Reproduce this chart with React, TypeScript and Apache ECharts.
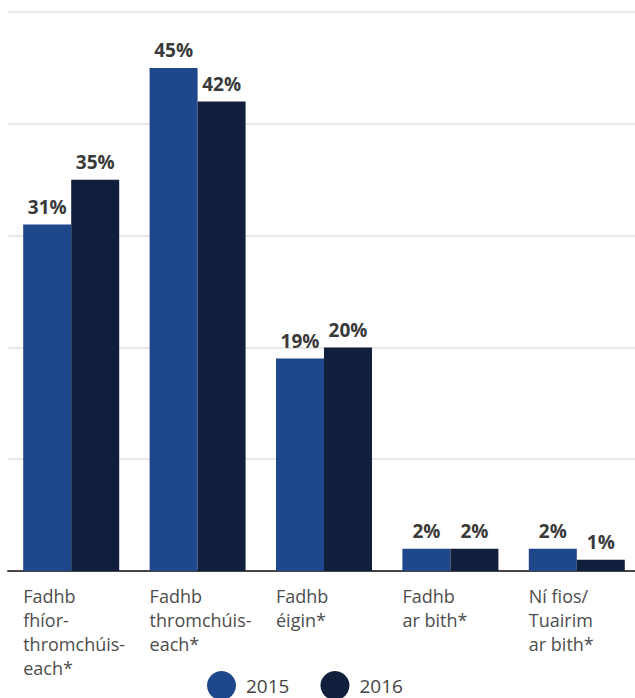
import React, { useEffect, useRef } from "react";
import * as echarts from "echarts";

const categories = [
  "Fadhb\nfhíor-\nthromchúis-\neach*",
  "Fadhb\nthromchúis-\neach*",
  "Fadhb\néigin*",
  "Fadhb\nar bith*",
  "Ní fios/\nTuairim\nar bith*",
];
const seriesNames = ["2015", "2016"];
const values2015 = [31, 45, 19, 2, 2];
const values2016 = [35, 42, 20, 2, 1];
const colors = ["#1f478b", "#111f3d"];
const FONT = "'Open Sans', sans-serif";

export default function App() {
  const ref = useRef<HTMLDivElement>(null);
  useEffect(() => {
    if (!ref.current) return;
    const chart = echarts.init(ref.current, null, { renderer: "svg" });
    const label = {
      show: true,
      position: "top",
      distance: 8,
      formatter: "{c}%",
      fontFamily: FONT,
      fontWeight: "bold",
      fontSize: 19,
      color: "#3a3a3a",
    };
    chart.setOption({
      animation: false,
      color: colors,
      legend: {
        data: seriesNames,
        top: 666,
        left: 202,
        icon: "circle",
        itemWidth: 29,
        itemHeight: 29,
        itemGap: 31,
        textStyle: { fontFamily: FONT, fontSize: 19, color: "#444444", padding: [0, 0, 0, 5] },
      },
      grid: {
        left: 8,
        width: 632,
        top: 12,
        bottom: 127,
        containLabel: false,
        outerBoundsMode: "none",
      },
      xAxis: {
        type: "category",
        data: categories,
        axisLine: { show: true, lineStyle: { color: "#444444", width: 2 } },
        axisTick: { show: false },
        axisLabel: {
          interval: 0,
          align: "left",
          verticalAlign: "top",
          padding: [0, 0, 0, -48],
          margin: 13,
          fontFamily: FONT,
          fontSize: 18,
          lineHeight: 24,
          color: "#4d4d4d",
        },
      },
      yAxis: {
        type: "value",
        min: 0,
        max: 50,
        interval: 10,
        axisLabel: { show: false },
        axisLine: { show: false },
        axisTick: { show: false },
        splitLine: { lineStyle: { color: "#e8e8e8", width: 2 } },
      },
      series: [
        {
          name: seriesNames[0],
          type: "bar",
          data: values2015,
          barWidth: 48,
          barGap: "0%",
          label,
        },
        {
          name: seriesNames[1],
          type: "bar",
          data: values2016,
          barWidth: 48,
          barGap: "0%",
          label,
        },
      ],
    });
    return () => chart.dispose();
  }, []);
  return <div ref={ref} style={{ width: 635, height: 698, position: "absolute", left: 0, top: 0 }} />;
}
